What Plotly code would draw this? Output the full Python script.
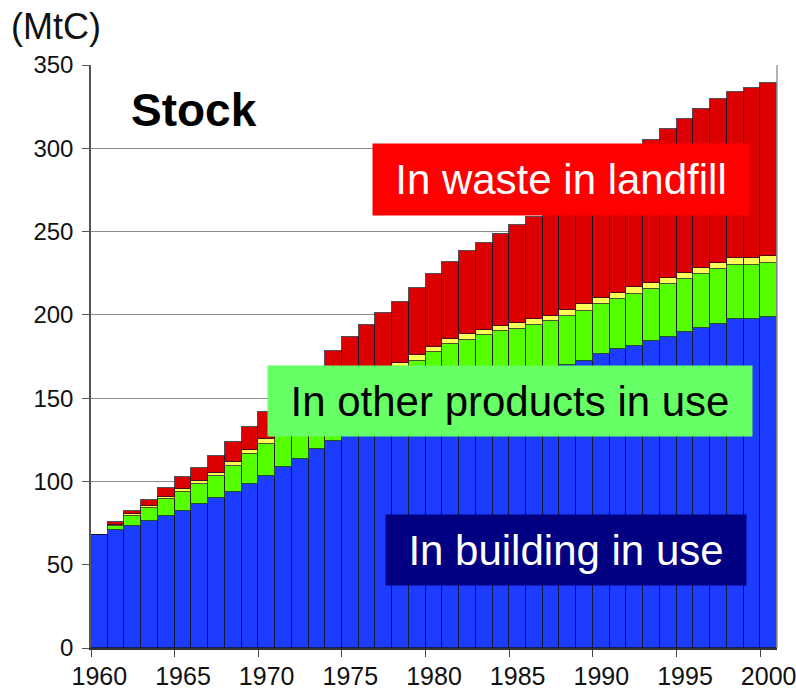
import plotly.graph_objects as go

# Carbon stock by pool, MtC (stacked from the bottom up)
years = list(range(1960, 2001))

building = [68.0, 71.0, 73.0, 76.2, 79.2, 82.4, 86.2, 90.0, 93.8, 98.4,
            103.4, 108.4, 113.4, 119.4, 124.4, 128.0, 131.5, 135.0, 138.5, 142.0,
            145.5, 149.0, 152.0, 155.0, 158.0, 161.0, 164.0, 167.0, 170.0, 172.2,
            176.4, 179.4, 181.4, 184.4, 187.0, 189.8, 192.4, 194.8, 197.8, 197.8,
            198.6]
other_products = [0.0, 2.0, 6.4, 7.8, 10.2, 11.4, 12.2, 13.0, 15.2, 17.8,
                  19.0, 19.9, 21.4, 21.4, 22.4, 24.8, 26.3, 27.8, 29.3, 30.4,
                  32.3, 33.4, 33.0, 32.8, 32.2, 30.8, 29.8, 29.2, 29.4, 30.4,
                  30.0, 30.0, 31.4, 31.4, 31.6, 31.8, 32.0, 32.6, 32.2, 32.2,
                  32.4]
minor_pool = [0.0, 0.8, 0.8, 1.2, 1.4, 1.6, 1.8, 1.8, 2.4, 2.8,
              3.2, 3.2, 3.2, 3.2, 3.2, 3.2, 3.2, 3.2, 3.2, 3.8,
              3.2, 3.4, 3.4, 3.2, 3.2, 3.2, 3.6, 3.0, 3.4, 3.8,
              3.8, 4.0, 3.8, 3.6, 3.8, 3.8, 4.0, 4.0, 4.0, 4.0,
              4.2]
landfill = [0.0, 1.8, 2.2, 3.8, 5.0, 7.2, 8.0, 10.6, 12.4, 13.8,
            15.8, 18.5, 21.0, 24.0, 28.4, 31.0, 32.8, 35.0, 37.0, 39.8,
            43.8, 46.0, 50.0, 52.4, 55.0, 58.8, 61.4, 65.8, 69.2, 71.6,
            74.8, 77.6, 81.4, 85.4, 89.4, 92.4, 95.0, 98.0, 100.0, 102.0,
            103.8]

y_ticks = [0, 50, 100, 150, 200, 250, 300, 350]
x_ticks = [y for y in years if y % 5 == 0]

FONT = "Arial, Liberation Sans, sans-serif"
outline = dict(color="rgba(20,20,40,0.75)", width=1)

fig = go.Figure()
for name, vals, color in [
    ("In building in use", building, "#1c3cff"),
    ("In other products in use", other_products, "#55ff00"),
    ("Other", minor_pool, "#ffff55"),
    ("In waste in landfill", landfill, "#dd0000"),
]:
    fig.add_trace(go.Bar(x=years, y=vals, name=name,
                         marker=dict(color=color, line=outline)))

fig.update_layout(
    barmode="stack",
    bargap=0,
    width=796, height=694,
    margin=dict(l=91, r=19, t=65, b=46),
    paper_bgcolor="white", plot_bgcolor="white",
    showlegend=False,
    font=dict(family=FONT, color="#111"),
)

fig.update_xaxes(
    range=[years[0] - 0.5, years[-1] + 0.5],
    tickvals=x_ticks, ticktext=[str(v) for v in x_ticks],
    ticks="", tickfont=dict(size=25, color="#111"), ticklabelstandoff=5,
    ticklabeloverflow="allow", automargin=False,
    showgrid=False, zeroline=False,
    showline=True, linecolor="#333", linewidth=1.5,
    minor=dict(tickvals=[v - 0.5 for v in x_ticks], ticks="outside",
               ticklen=7, tickcolor="#444", tickwidth=1.2, showgrid=False),
)
fig.update_yaxes(
    range=[0, 350], tickvals=y_ticks,
    ticks="outside", ticklen=7, tickcolor="#555", tickwidth=1.2,
    tickfont=dict(size=24, color="#111"), ticklabelstandoff=4,
    automargin=False,
    showgrid=True, gridcolor="#8a8a8a", gridwidth=1.3,
    zeroline=False, showline=True, linecolor="#555", linewidth=1.5,
)

# thin frame on the right edge of the plotting area
fig.add_shape(type="line", xref="paper", yref="paper", x0=1, x1=1, y0=0, y1=1,
              line=dict(color="#9a9a9a", width=1.5))

fig.add_annotation(text="(MtC)", xref="paper", yref="paper",
                   x=-0.119, y=1.105, xanchor="left", yanchor="top",
                   showarrow=False, font=dict(size=36, color="#111", family=FONT))
fig.add_annotation(text="<b>Stock</b>", xref="paper", yref="paper",
                   x=0.055, y=0.922, xanchor="left", yanchor="middle",
                   showarrow=False, font=dict(size=46, color="#000", family=FONT))

labels = [
    ("In waste in landfill", 0.6851, 0.8036, 376, 71, "#ff0000", "white"),
    ("In other products in use", 0.6108, 0.4237, 484, 70, "#66ff66", "black"),
    ("In building in use", 0.6917, 0.1681, 360, 70, "#000080", "white"),
]
for text, px, py, w, h, bg, fc in labels:
    fig.add_annotation(text=text, xref="paper", yref="paper", x=px, y=py,
                       xanchor="center", yanchor="middle", showarrow=False,
                       width=w, height=h, bgcolor=bg, borderpad=0,
                       font=dict(size=42, color=fc, family=FONT))

fig.write_html("out.html")
